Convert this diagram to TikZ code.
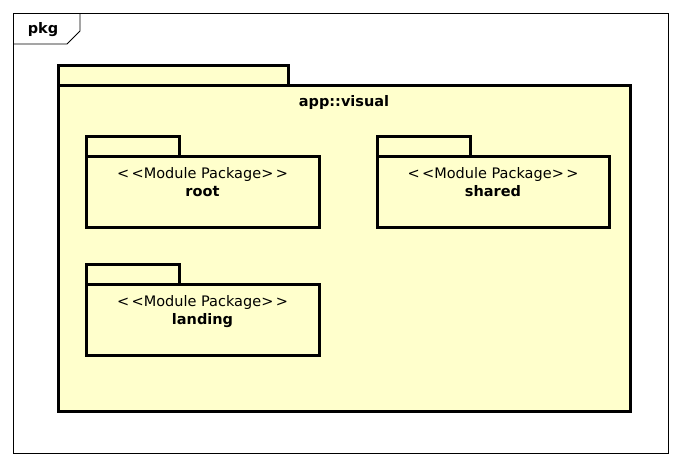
\documentclass[tikz,border=0pt]{standalone}
\usepackage{fontspec}
\setmainfont{DejaVu Sans}
\usetikzlibrary{positioning}
\definecolor{pkgyellow}{HTML}{FFFFCC}
\newcommand{\stereo}{{<}\,{<}Module Package{>}\,{>}}
\begin{document}
\begin{tikzpicture}[x=1pt, y=-1pt,
		pkgbody/.style={draw, fill=pkgyellow, line width=3pt, inner sep=0pt, outer sep=0pt, anchor=north west},
		pkgtab/.style={draw, fill=pkgyellow, line width=3pt, inner sep=0pt, outer sep=0pt, minimum height=20, anchor=south west},
		pkgtext/.style={font=\fontsize{14.5}{18}\selectfont, align=center, inner sep=0pt}]
		% --- Cornice del diagramma ---
		\useasboundingbox (0,0) rectangle (681,466);
		\node[draw, line width=0.8pt, inner sep=0pt, outer sep=0pt, minimum width=655, minimum height=440, anchor=north west] (frame) at (13,13) {};
		\draw[line width=0.8pt] (frame.north west) ++(0,31) -- ++(54,0) -- ++(13,-13) -- (80,13);
		\node[font=\fontsize{14.5}{18}\bfseries] (pkglabel) at (43,30) {pkg};
		
		% --- Package esterno ---
		\node[pkgtab, minimum width=230] (visualtab) at (58,85) {};
		\node[pkgbody, minimum width=572, minimum height=326] (visual) at (58,85) {};
		\node[pkgtext, font=\fontsize{14.5}{18}\bfseries, below=10pt of visual.north] (visualtxt) {app::visual};
		
		% --- Package interni ---
		\node[pkgtab, minimum width=93] (roottab) at (86,156) {};
		\node[pkgbody, minimum width=233, minimum height=71] (root) at (86,156) {};
		\node[pkgtext, below=11pt of root.north] (roottxt) {\stereo\\\textbf{root}};
		
		\node[pkgtab, minimum width=93] (sharedtab) at (377,156) {};
		\node[pkgbody, minimum width=232, minimum height=71] (shared) at (377,156) {};
		\node[pkgtext, below=11pt of shared.north] (sharedtxt) {\stereo\\\textbf{shared}};
		
		\node[pkgtab, minimum width=93] (landingtab) at (86,284) {};
		\node[pkgbody, minimum width=233, minimum height=71] (landing) at (86,284) {};
		\node[pkgtext, below=11pt of landing.north] (landingtxt) {\stereo\\\textbf{landing}};
	\end{tikzpicture}
\end{document}
